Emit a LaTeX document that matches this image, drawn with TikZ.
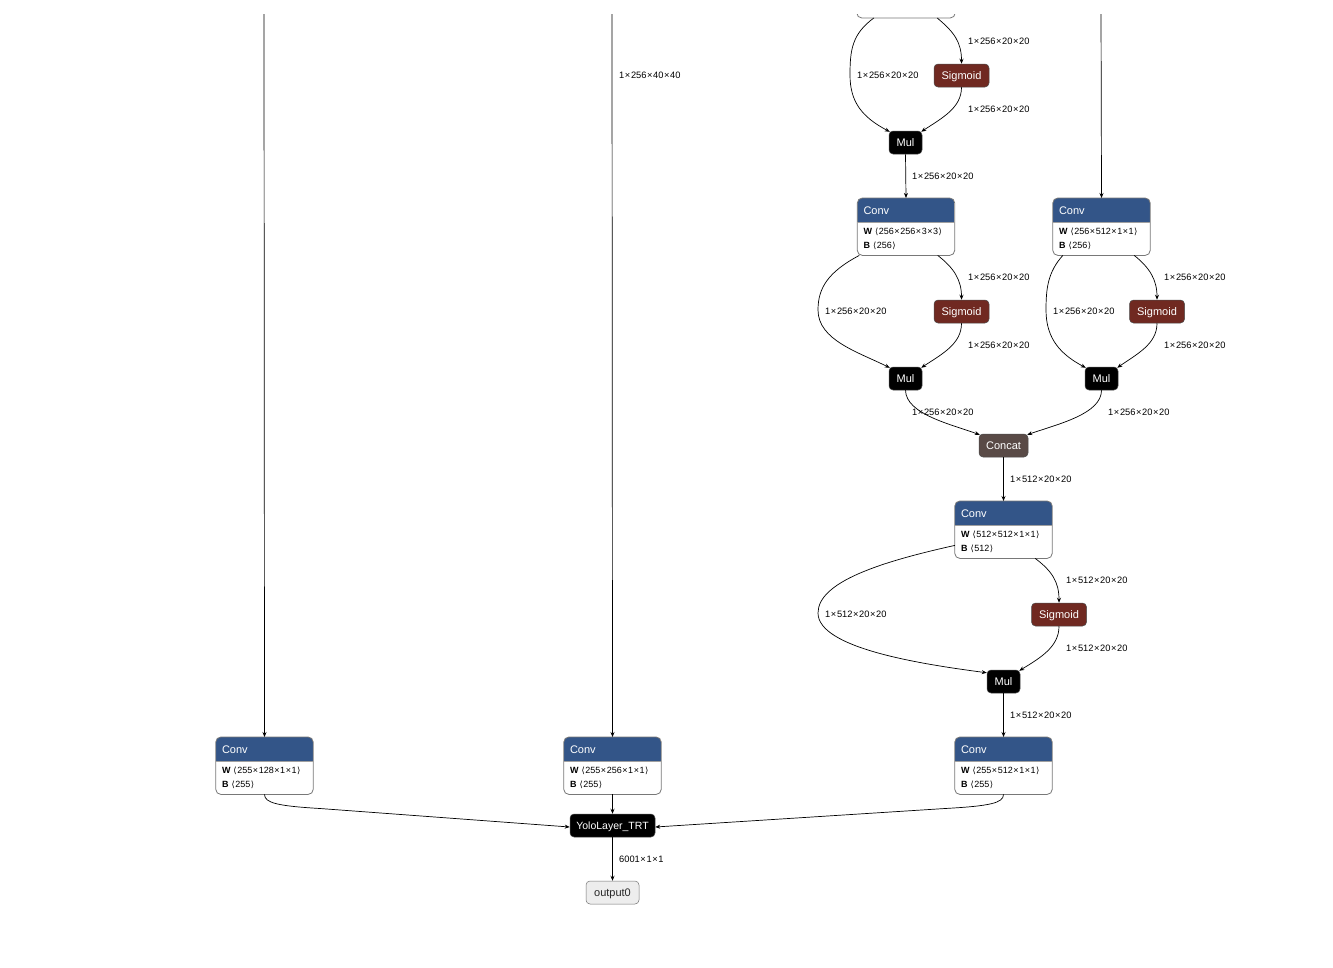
\documentclass[tikz,border=0pt]{standalone}
\usepackage{fontspec}
\setmainfont{Liberation Sans}
\newfontfamily\dejavu{DejaVu Sans}
\usetikzlibrary{arrows.meta}
\definecolor{convblue}{RGB}{51,85,136}
\definecolor{sigred}{RGB}{112,41,33}
\definecolor{concatbrown}{RGB}{89,74,70}
\definecolor{frame}{RGB}{120,120,120}
\newcommand\lb{\kern3pt{\dejavu\fontsize{8.5}{9}\selectfont ⟨}\kern0.5pt}
\newcommand\rb{\kern0.5pt{\dejavu\fontsize{8.5}{9}\selectfont ⟩}}
\newcommand\tms{\kern0.6pt×\kern0.6pt}
\tikzset{
  edge/.style={draw=black, line width=0.7pt, -{Stealth[length=5pt,width=4pt]}},
  elabel/.style={font=\fontsize{9.3}{10}\selectfont, inner sep=0pt, anchor=west, yshift=-1pt},
  opnode/.style={rounded corners=4pt, minimum height=23pt, inner sep=0pt, font=\fontsize{11}{12}\selectfont, text=white, draw=black!70, line width=0.5pt, text depth=0pt, text height=7pt},
  sigbox/.style={opnode, fill=sigred, minimum width=55pt},
  mulbox/.style={opnode, fill=black, minimum width=33pt},
  convframe/.style={minimum width=97pt, minimum height=57pt, inner sep=0pt},
  attr/.style={font=\fontsize{9}{10}\selectfont, inner sep=0pt, anchor=west}
}
\newcommand\convnode[5]{%
  \node[convframe, anchor=north] (#1) at (#2,#3) {};
  \begin{scope}
    \clip[rounded corners=5pt] (#1.south west) rectangle (#1.north east);
    \fill[white] (#1.south west) rectangle (#1.north east);
    \fill[convblue] (#1.north west) rectangle ([yshift=-24pt]#1.north east);
  \end{scope}
  \draw[frame, line width=0.8pt, rounded corners=5pt] (#1.south west) rectangle (#1.north east);
  \draw[frame!70, line width=0.5pt] ([yshift=-24pt]#1.north west) -- ([yshift=-24pt]#1.north east);
  \node[anchor=west, text=white, inner sep=0pt, font=\fontsize{11}{12}\selectfont] (#1h) at ([xshift=6pt,yshift=-13pt]#1.north west) {Conv};
  \node[attr] (#1w) at ([xshift=6pt,yshift=-34pt]#1.north west) {\textbf{W}\lb#4\rb};
  \node[attr] (#1b) at ([xshift=6pt,yshift=-48pt]#1.north west) {\textbf{B}\lb#5\rb};
}
\begin{document}
\begin{tikzpicture}[x=1pt,y=-1pt]
\useasboundingbox (0,0) rectangle (1333,967);
\fill[white] (0,0) rectangle (1333,967);
\begin{scope}
\clip (0,14) rectangle (1333,967);

% top (cut-off) node
\node[minimum width=98pt, minimum height=50pt, inner sep=0pt, anchor=south] (ntop) at (906,18) {};
\draw[frame, line width=0.8pt, rounded corners=5pt] (ntop.south west) rectangle (ntop.north east);

% coordinates of the incoming lines at the top
\coordinate (inA) at (264,10);
\coordinate (inB) at (612,10);
\coordinate (inC) at (1101,10);

% nodes
\node[sigbox] (sig1) at (961.5,75.5) {Sigmoid};
\node[mulbox] (mul1) at (905.5,142.5) {Mul};
\convnode{conv2}{906}{198}{256\tms256\tms3\tms3}{256}
\convnode{conv3}{1101.5}{198}{256\tms512\tms1\tms1}{256}
\node[sigbox] (sig2) at (961.5,311.5) {Sigmoid};
\node[mulbox] (mul2) at (905.5,378.5) {Mul};
\node[sigbox] (sig3) at (1157,311.5) {Sigmoid};
\node[mulbox] (mul3) at (1101.5,378.5) {Mul};
\node[opnode, fill=concatbrown, minimum width=49pt] (concat) at (1003.5,445.5) {Concat};
\convnode{conv4}{1003.5}{501}{512\tms512\tms1\tms1}{512}
\node[sigbox] (sig4) at (1059,614.5) {Sigmoid};
\node[mulbox] (mul4) at (1003.5,681.5) {Mul};
\convnode{conv5}{1003.5}{737}{255\tms512\tms1\tms1}{255}
\convnode{convL}{264.5}{737}{255\tms128\tms1\tms1}{255}
\convnode{convM}{612.5}{737}{255\tms256\tms1\tms1}{255}
\node[opnode, fill=black, minimum width=85pt, font=\fontsize{10.5}{12}\selectfont] (yolo) at (612.5,825.5) {YoloLayer\_TRT};
\node[opnode, fill=black!7, draw=black!55, text=black!85, minimum width=53pt] (out) at (612.5,892.5) {output0};

% long vertical lines
\draw[edge] (inA) -- (convL.north);
\draw[edge] (inB) -- (convM.north);
\draw[edge] (inC) -- (conv3.north);
\node[elabel] (l0) at (619,74) {1\tms256\tms40\tms40};

% top block
\draw[edge] ([xshift=17pt]ntop.south west) .. controls (852,34) and (850,50) .. (850,75) .. controls (850,102) and (862,117) .. ([xshift=1pt,yshift=-1pt]mul1.north west);
\draw[edge] ([xshift=-18pt]ntop.south east) .. controls (954,32) and (961.5,42) .. (sig1.north);
\draw[edge] (sig1.south) .. controls (961.5,108) and (942,118) .. ([xshift=-1pt,yshift=-1pt]mul1.north east);
\node[elabel] (l1) at (968,40) {1\tms256\tms20\tms20};
\node[elabel] (l2) at (857,74) {1\tms256\tms20\tms20};
\node[elabel] (l3) at (968,108) {1\tms256\tms20\tms20};
\draw[edge] (mul1.south) -- (conv2.north);
\node[elabel] (l4) at (912,175) {1\tms256\tms20\tms20};

% conv2 block
\draw[edge] ([xshift=2pt]conv2.south west) .. controls (828,272) and (818,288) .. (818,310) .. controls (818,340) and (858,352) .. ([xshift=1pt,yshift=-1pt]mul2.north west);
\draw[edge] ([xshift=-17pt]conv2.south east) .. controls (954,268) and (961.5,280) .. (sig2.north);
\draw[edge] (sig2.south) .. controls (961.5,344) and (942,354) .. ([xshift=-1pt,yshift=-1pt]mul2.north east);
\node[elabel] (l5) at (968,276) {1\tms256\tms20\tms20};
\node[elabel] (l6) at (825,310) {1\tms256\tms20\tms20};
\node[elabel] (l7) at (968,344) {1\tms256\tms20\tms20};

% conv3 block
\draw[edge] ([xshift=10pt]conv3.south west) .. controls (1048,272) and (1046,288) .. (1046,310) .. controls (1046,340) and (1062,355) .. ([xshift=1pt,yshift=-1pt]mul3.north west);
\draw[edge] ([xshift=-16pt]conv3.south east) .. controls (1150,268) and (1157,280) .. (sig3.north);
\draw[edge] (sig3.south) .. controls (1157,344) and (1137,354) .. ([xshift=-1pt,yshift=-1pt]mul3.north east);
\node[elabel] (l8) at (1164,276) {1\tms256\tms20\tms20};
\node[elabel] (l9) at (1053,310) {1\tms256\tms20\tms20};
\node[elabel] (l10) at (1164,344) {1\tms256\tms20\tms20};

% into concat
\draw[edge] (mul2.south) .. controls (906,414) and (950,424) .. ([xshift=1pt,yshift=-1pt]concat.north west);
\draw[edge] (mul3.south) .. controls (1101.5,414) and (1058,424) .. ([xshift=-1pt,yshift=-1pt]concat.north east);
\node[elabel] (l11) at (912,411) {1\tms256\tms20\tms20};
\node[elabel] (l12) at (1108,411) {1\tms256\tms20\tms20};
\draw[edge] (concat.south) -- (conv4.north);
\node[elabel] (l13) at (1010,478) {1\tms512\tms20\tms20};

% conv4 block
\draw[edge] ([yshift=13pt]conv4.south west) .. controls (880,562) and (818,582) .. (818,613) .. controls (818,648) and (920,664) .. ([yshift=-3pt]mul4.north west);
\draw[edge] ([xshift=-17pt]conv4.south east) .. controls (1052,571) and (1059,582) .. (sig4.north);
\draw[edge] (sig4.south) .. controls (1059,647) and (1040,658) .. ([xshift=-1pt,yshift=-1pt]mul4.north east);
\node[elabel] (l14) at (1066,579) {1\tms512\tms20\tms20};
\node[elabel] (l15) at (825,613) {1\tms512\tms20\tms20};
\node[elabel] (l16) at (1066,647) {1\tms512\tms20\tms20};
\draw[edge] (mul4.south) -- (conv5.north);
\node[elabel] (l17) at (1010,714) {1\tms512\tms20\tms20};

% into YoloLayer
\draw[edge] (convL.south) .. controls (264.5,803) and (278,806) .. (320,808.5) -- ([yshift=-1.5pt]yolo.west);
\draw[edge] (convM.south) -- (yolo.north);
\draw[edge] (conv5.south) .. controls (1003.5,803) and (990,806) .. (945,808.5) -- ([yshift=-1.5pt]yolo.east);
\draw[edge] (yolo.south) -- (out.north);
\node[elabel] (l18) at (619,858) {6001\tms1\tms1};
\end{scope}
\end{tikzpicture}
\end{document}
